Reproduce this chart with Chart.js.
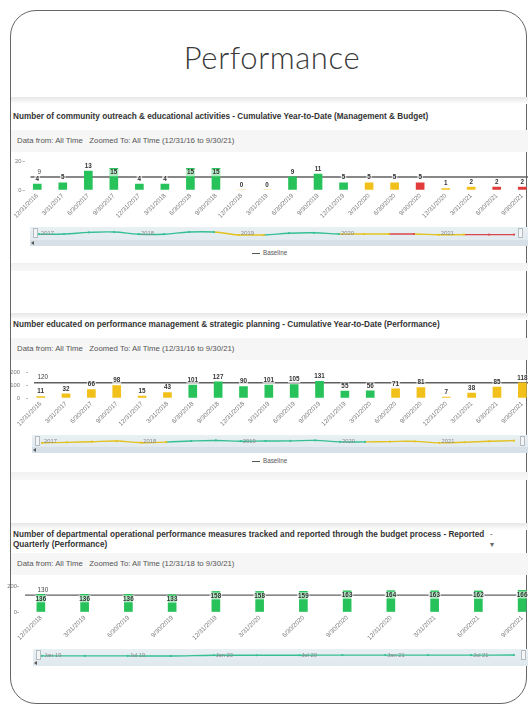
<!DOCTYPE html>
<html>
<head>
<meta charset="utf-8">
<script src="https://cdn.jsdelivr.net/npm/chart.js@4.4.1/dist/chart.umd.min.js"></script>
<style>
  body { margin:0; width:528px; height:705px; overflow:hidden; background:#fff; position:relative;
         font-family:"Liberation Sans", Arial, sans-serif; }
  #frame { position:absolute; left:10px; top:10px; width:515px; height:692px; border:1px solid #666; border-radius:26px; }
  #slideTitle { position:absolute; left:0; width:544px; top:38px; text-align:center; font-size:31px; color:#3a3a3a;
                font-family:Lato, "Liberation Sans", sans-serif; font-weight:300; letter-spacing:0.6px; }
  .topStrip { position:absolute; left:11px; width:520px; height:7px; background:linear-gradient(#e6e6e6,#fff); }
  .botStrip { position:absolute; left:11px; width:520px; height:8px; background:linear-gradient(#f1f1f1,#f7f7f7); }
  .ptitle { position:absolute; left:13px; font-weight:bold; font-size:8.2px; line-height:10px; color:#333; white-space:nowrap; }
  .drow { position:absolute; left:11px; width:520px; height:22px; background:#f6f6f6; }
  .dtext { position:absolute; left:17px; font-size:7.8px; line-height:9px; color:#555; white-space:nowrap; }
  canvas { position:absolute; }
  .band { position:absolute; width:500px; background:linear-gradient(#e9f0f4,#dfe8ee); }
  .band .scroll { position:absolute; left:0; right:0; bottom:0; height:6px; background:#d6e0e6; }
  .band .hl { position:absolute; left:3px; top:1px; width:3px; height:8px; border:1px solid #b3bcc2; background:#f5f5f5; }
  .band .hr { position:absolute; left:488px; top:1px; width:3px; height:8px; border:1px solid #b3bcc2; background:#f5f5f5; }
  .band .al { position:absolute; left:1px; bottom:1px; width:0; height:0; border-top:2px solid transparent;
              border-bottom:2px solid transparent; border-right:3px solid #555; }
  .legend { position:absolute; left:252px; font-size:6.3px; line-height:8px; color:#555; white-space:nowrap; }
  .legend span { display:inline-block; width:8px; height:1.5px; background:#555; vertical-align:middle; margin-right:3px; }
</style>
</head>
<body>
<div id="frame"></div>
<div id="slideTitle">Performance</div>

<!-- panel 1 -->
<div class="topStrip" style="top:97px"></div>
<div class="ptitle" style="top:112px">Number of community outreach &amp; educational activities - Cumulative Year-to-Date (Management &amp; Budget)</div>
<div class="drow" style="top:130px"></div>
<div class="dtext" style="top:136px">Data from: All Time&nbsp;&nbsp;&nbsp;Zoomed To: All Time (12/31/16 to 9/30/21)</div>
<canvas id="c1" width="535" height="69" style="left:0;top:155px"></canvas>
<div class="band" style="left:30px;top:227px;height:19px"><div class="scroll"></div><div class="hl"></div><div class="hr"></div><div class="al"></div></div>
<canvas id="n1" width="483" height="12" style="left:35px;top:227px"></canvas>
<div class="legend" style="top:249px"><span></span>Baseline</div>
<div class="botStrip" style="top:263px"></div>

<!-- panel 2 -->
<div class="topStrip" style="top:313px"></div>
<div class="ptitle" style="top:320px">Number educated on performance management &amp; strategic planning - Cumulative Year-to-Date (Performance)</div>
<div class="drow" style="top:338px"></div>
<div class="dtext" style="top:344px">Data from: All Time&nbsp;&nbsp;&nbsp;Zoomed To: All Time (12/31/16 to 9/30/21)</div>
<canvas id="c2" width="535" height="69" style="left:0;top:363px"></canvas>
<div class="band" style="left:32px;top:435px;height:18px"><div class="scroll"></div><div class="hl"></div><div class="hr"></div><div class="al"></div></div>
<canvas id="n2" width="480" height="12" style="left:38px;top:435px"></canvas>
<div class="legend" style="top:457px"><span></span>Baseline</div>
<div class="botStrip" style="top:472px"></div>

<!-- panel 3 -->
<div class="topStrip" style="top:523px"></div>
<div class="ptitle" style="top:530px">Number of departmental operational performance measures tracked and reported through the budget process - Reported<br>Quarterly (Performance)</div>
<div class="ptitle" style="top:530px;left:490px;font-weight:normal;color:#666">-<br>▾</div>
<div class="drow" style="top:553px"></div>
<div class="dtext" style="top:559px">Data from: All Time&nbsp;&nbsp;&nbsp;Zoomed To: All Time (12/31/18 to 9/30/21)</div>
<canvas id="c3" width="544" height="70" style="left:0;top:580px"></canvas>
<div class="band" style="left:33px;top:649px;height:17px"><div class="hl"></div><div class="hr"></div><div class="al"></div></div>
<canvas id="n3" width="480" height="11" style="left:38px;top:650px"></canvas>

<script>
// chart 1 - community outreach
const dates1 = ['12/31/2016', '3/31/2017', '6/30/2017', '9/30/2017', '12/31/2017', '3/31/2018', '6/30/2018', '9/30/2018',
                '12/31/2018', '3/31/2019', '6/30/2019', '9/30/2019', '12/31/2019', '3/31/2020', '6/30/2020', '9/30/2020',
                '12/31/2020', '3/31/2021', '6/30/2021', '9/30/2021'];
const values1 = [4, 5, 13, 15, 4, 4, 15, 15, 0, 0, 9, 11, 5, 5, 5, 5, 1, 2, 2, 2];
const status1 = ['G', 'G', 'G', 'G', 'G', 'G', 'G', 'G', 'Y', 'Y', 'G', 'G', 'G', 'Y', 'Y', 'R', 'Y', 'Y', 'R', 'R'];
const baseline1 = 9;
const yTicks1 = [0, 20];

// chart 2 - number educated
const dates2 = dates1;
const values2 = [11, 32, 66, 98, 15, 43, 101, 127, 90, 101, 105, 131, 55, 56, 71, 81, 7, 38, 85, 118];
const status2 = ['Y', 'Y', 'Y', 'Y', 'Y', 'Y', 'G', 'G', 'G', 'G', 'G', 'G', 'G', 'G', 'Y', 'Y', 'Y', 'Y', 'Y', 'Y'];
const baseline2 = 120;
const yTicks2 = [0, 100, 200];

// chart 3 - measures tracked (quarterly)
const dates3 = ['12/31/2018', '3/31/2019', '6/30/2019', '9/30/2019', '12/31/2019', '3/31/2020', '6/30/2020', '9/30/2020',
                '12/31/2020', '3/31/2021', '6/30/2021', '9/30/2021'];
const values3 = [136, 136, 136, 133, 158, 158, 159, 163, 164, 163, 162, 166];
const status3 = ['G', 'G', 'G', 'G', 'G', 'G', 'G', 'G', 'G', 'G', 'G', 'G'];
const baseline3 = 130;
const yTicks3 = [0, 200];

const barColours = { G: '#27c25a', Y: '#f2c01a', R: '#e23b3b' };
const navColours = { G: '#36bf94', Y: '#e2c21f', R: '#d9464a' };

Chart.defaults.font.family = "'Liberation Sans', Arial, sans-serif";

// baseline line behind the bars, value labels on top
const barExtras = {
  id: 'barExtras',
  beforeDatasetsDraw(chart, args, opts) {
    const ctx = chart.ctx, area = chart.chartArea;
    const by = chart.scales.y.getPixelForValue(opts.baseline);
    ctx.save();
    ctx.strokeStyle = '#606060';
    ctx.lineWidth = 1.4;
    ctx.beginPath();
    ctx.moveTo(area.left + 6, by);
    ctx.lineTo(area.right, by);
    ctx.stroke();
    ctx.restore();
  },
  afterDatasetsDraw(chart, args, opts) {
    const ctx = chart.ctx;
    const meta = chart.getDatasetMeta(0);
    const vals = chart.data.datasets[0].data;
    const by = chart.scales.y.getPixelForValue(opts.baseline);
    ctx.save();
    ctx.textAlign = 'center';
    ctx.textBaseline = 'middle';
    ctx.font = 'bold 6.3px "Liberation Sans", Arial, sans-serif';
    meta.data.forEach((bar, i) => {
      const v = vals[i];
      const txt = String(v);
      const ty = v >= opts.insideFrom ? bar.y + 4.5 : bar.y - 5;
      const w = ctx.measureText(txt).width;
      ctx.fillStyle = 'rgba(255,255,255,0.65)';
      ctx.fillRect(bar.x - w / 2 - 1, ty - 3.5, w + 2, 7);
      ctx.fillStyle = '#333';
      ctx.fillText(txt, bar.x, ty);
    });
    ctx.font = '6.3px "Liberation Sans", Arial, sans-serif';
    ctx.fillStyle = '#444';
    ctx.fillText(String(opts.baseline), meta.data[0].x + 2, by - 5);
    ctx.restore();
  }
};

function barChart(id, dates, values, status, baseline, yTicks, opt) {
  new Chart(document.getElementById(id), {
    type: 'bar',
    data: {
      labels: dates,
      datasets: [{ data: values, backgroundColor: status.map(s => barColours[s]), barThickness: 8 }]
    },
    options: {
      responsive: false,
      animation: false,
      layout: { padding: { top: 6, left: 0, right: 0, bottom: 0 } },
      plugins: {
        legend: { display: false },
        tooltip: { enabled: false },
        barExtras: { baseline: baseline, insideFrom: opt.insideFrom }
      },
      scales: {
        x: {
          grid: { display: false, drawTicks: false },
          border: { display: false },
          ticks: { autoSkip: false, minRotation: 45, maxRotation: 45, padding: 2, color: '#777', font: { size: 6.3 } },
          afterFit: s => { s.height = opt.xh; }
        },
        y: {
          min: yTicks[0],
          max: yTicks[yTicks.length - 1],
          afterBuildTicks: s => { s.ticks = yTicks.map(v => ({ value: v })); },
          grid: { drawOnChartArea: false, tickLength: 2, color: '#bbb' },
          border: { display: false },
          ticks: { padding: opt.tickPad, color: '#777', font: { size: 5.8 } },
          afterFit: s => { s.width = opt.yw; }
        }
      }
    },
    plugins: [barExtras]
  });
}

// navigator axis labels
const navTicks = {
  id: 'navTicks',
  afterDraw(chart, args, opts) {
    const ctx = chart.ctx, area = chart.chartArea, x = chart.scales.x;
    const midY = (area.top + area.bottom) / 2;
    ctx.save();
    ctx.font = '5.8px "Liberation Sans", Arial, sans-serif';
    ctx.fillStyle = '#888';
    ctx.textBaseline = 'middle';
    chart.data.labels.forEach((d, i) => {
      const t = opts.label(d);
      if (t) ctx.fillText(t, x.getPixelForValue(i) + 2, midY);
    });
    ctx.restore();
  }
};

function yearLabel(d) {
  const p = d.split('/');
  return p[0] === '12' ? String(+p[2] + 1) : '';
}
function halfYearLabel(d) {
  const p = d.split('/');
  const yy = +p[2] % 100;
  if (p[0] === '12') return 'Jan ' + (yy + 1);
  if (p[0] === '6') return 'Jul ' + yy;
  return '';
}

function navigator(id, dates, values, status, labelFn, pad) {
  new Chart(document.getElementById(id), {
    type: 'line',
    data: {
      labels: dates,
      datasets: [{
        data: values,
        borderWidth: 1.4,
        tension: 0.4,
        clip: false,
        pointRadius: 1.1,
        pointBackgroundColor: status.map(s => navColours[s]),
        pointBorderWidth: 0,
        borderColor: navColours.G,
        segment: { borderColor: c => navColours[status[c.p1DataIndex]] }
      }]
    },
    options: {
      responsive: false,
      animation: false,
      layout: { padding: { top: pad, bottom: pad, left: 0, right: 0 } },
      plugins: { legend: { display: false }, tooltip: { enabled: false }, navTicks: { label: labelFn } },
      scales: { x: { display: false }, y: { display: false } }
    },
    plugins: [navTicks]
  });
}

barChart('c1', dates1, values1, status1, baseline1, yTicks1, { xh: 34, yw: 24.5, tickPad: 1, insideFrom: 14 });
barChart('c2', dates2, values2, status2, baseline2, yTicks2, { xh: 34, yw: 28, tickPad: 6, insideFrom: 1000 });
barChart('c3', dates3, values3, status3, baseline3, yTicks3, { xh: 38, yw: 19, tickPad: 0, insideFrom: 100 });

navigator('n1', dates1, values1, status1, yearLabel, 1.5);
navigator('n2', dates2, values2, status2, yearLabel, 1.5);
navigator('n3', dates3, values3, status3, halfYearLabel, 1);
</script>
</body>
</html>
